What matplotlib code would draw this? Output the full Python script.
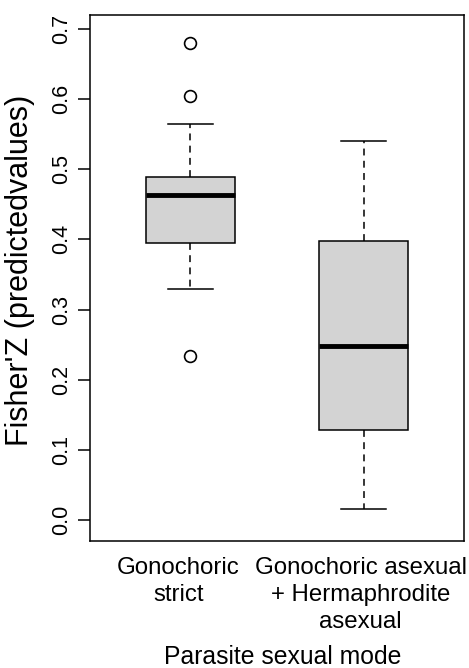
import matplotlib
matplotlib.use("Agg")
import matplotlib.pyplot as plt
import matplotlib.transforms as mtransforms

# ---- data ----
categories = ["Gonochoric\nstrict", "Gonochoric asexual\n+ Hermaphrodite\nasexual"]
q1 = [0.395, 0.128]
median = [0.463, 0.248]
q3 = [0.489, 0.398]
whisker_low = [0.330, 0.016]
whisker_high = [0.565, 0.540]
outliers = [[0.680, 0.604, 0.234], []]
yticks = [0.0, 0.1, 0.2, 0.3, 0.4, 0.5, 0.6, 0.7]
ytick_labels = ["0.0", "0.1", "0.2", "0.3", "0.4", "0.5", "0.6", "0.7"]

plt.rcParams['font.family'] = ['Liberation Sans', 'DejaVu Sans']

fig = plt.figure(figsize=(4.69, 6.68), dpi=100)
ax = fig.add_axes([90/469, (668-541)/668, (464-90)/469, (541-15)/668])

stats = []
for i in range(len(categories)):
    stats.append(dict(med=median[i], q1=q1[i], q3=q3[i],
                      whislo=whisker_low[i], whishi=whisker_high[i],
                      fliers=outliers[i], label=categories[i]))

lw = 1.1
ax.bxp(stats, positions=[1, 2], widths=0.51, patch_artist=True,
       boxprops=dict(facecolor="#d3d3d3", edgecolor="black", linewidth=lw),
       medianprops=dict(color="black", linewidth=3.5, solid_capstyle="butt"),
       whiskerprops=dict(color="black", linewidth=lw, linestyle=(0, (4.5, 3.5))),
       capprops=dict(color="black", linewidth=lw),
       capwidths=0.255,
       flierprops=dict(marker="o", markerfacecolor="none", markeredgecolor="black",
                       markersize=8.5, markeredgewidth=1.2))

ax.set_xlim(0.42, 2.58)
ax.set_ylim(-0.030, 0.720)
ax.set_yticks(yticks)
ax.set_yticklabels(ytick_labels, rotation=90, va="center", fontsize=15.5)
ax.set_xticks([1, 2])
ax.set_xticklabels(categories, fontsize=17.3, linespacing=1.3)
ax.tick_params(axis="x", length=0, pad=11.5)
ax.tick_params(axis="y", length=9, width=lw, pad=3.6)
for s in ax.spines.values():
    s.set_linewidth(lw)

# category labels are slightly offset from the box centres in the reference
for lab, dx in zip(ax.get_xticklabels(), [-12, -3]):
    lab.set_transform(lab.get_transform() +
                      mtransforms.ScaledTranslation(dx/100, 0, fig.dpi_scale_trans))

ax.set_ylabel("Fisher'Z (predictedvalues)", fontsize=22)
ax.yaxis.set_label_coords((35-90)/374, 0.515)
ax.set_xlabel("Parasite sexual mode", fontsize=17.8)
ax.xaxis.set_label_coords((283-90)/374, (541-664)/526)
ax.xaxis.label.set_va("baseline")

fig.savefig("out.png", dpi=100)
